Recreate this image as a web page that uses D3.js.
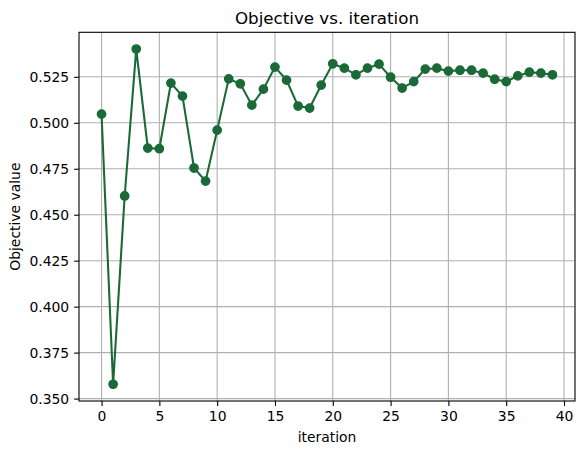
<html>
<head>
    <script src="https://d3js.org/d3.v7.min.js"></script>
    <style type="text/css">
        body { margin: 0; background: white; }
        text { font-family: "DejaVu Sans", sans-serif; fill: black; }
        .grid line { stroke: #b0b0b0; stroke-width: 1.1; }
    </style>
</head>
<body>
    <svg></svg>
    <script>
        const Width = 584, Height = 455;
        const Margin = { left: 79, top: 32.3, right: 9, bottom: 54 };

        // objective value per iteration
        var iterations = d3.range(40);
        var objective = [
            0.5047, 0.3578, 0.4602, 0.5401, 0.4862, 0.4859, 0.5216, 0.5145, 0.4754, 0.4683,
            0.4960, 0.5239, 0.5212, 0.5096, 0.5183, 0.5303, 0.5232, 0.5091, 0.5080, 0.5205,
            0.5321, 0.5297, 0.5261, 0.5297, 0.5319, 0.5248, 0.5189, 0.5224, 0.5292, 0.5297,
            0.5281, 0.5286, 0.5286, 0.5270, 0.5237, 0.5224, 0.5255, 0.5275, 0.5270, 0.5261
        ];
        var xTicks = [0, 5, 10, 15, 20, 25, 30, 35, 40];
        var yTicks = [0.350, 0.375, 0.400, 0.425, 0.450, 0.475, 0.500, 0.525];

        const Green = "#1a6936";

        var Points = iterations.map((i) => ({ x: i, y: objective[i] }));

        var svg = d3.select("svg").attr("width", Width).attr("height", Height);

        var w = Width - Margin.left - Margin.right,
            h = Height - Margin.top - Margin.bottom;

        // matplotlib style 5% margins
        var xExt = d3.extent(iterations), xPad = (xExt[1] - xExt[0]) * 0.05;
        var yExt = d3.extent(objective), yPad = (yExt[1] - yExt[0]) * 0.05;

        var x = d3.scaleLinear().domain([xExt[0] - xPad, xExt[1] + xPad]).range([0, w]);
        var y = d3.scaleLinear().domain([yExt[0] - yPad, yExt[1] + yPad]).range([h, 0]);

        var g = svg.append("g")
            .attr("transform", "translate(" + Margin.left + "," + Margin.top + ")");

        // grid
        g.append("g").classed("grid", true)
            .selectAll("line.vx").data(xTicks).enter()
            .append("line")
                .attr("x1", (d) => x(d)).attr("x2", (d) => x(d))
                .attr("y1", 0).attr("y2", h);
        g.append("g").classed("grid", true)
            .selectAll("line.hy").data(yTicks).enter()
            .append("line")
                .attr("y1", (d) => y(d)).attr("y2", (d) => y(d))
                .attr("x1", 0).attr("x2", w);

        // axes
        var xAxis = g.append("g")
            .attr("transform", "translate(0," + h + ")")
            .call(d3.axisBottom(x).tickValues(xTicks).tickSize(4.9).tickPadding(4.9).tickFormat(d3.format("d")));
        var yAxis = g.append("g")
            .call(d3.axisLeft(y).tickValues(yTicks).tickSize(4.9).tickPadding(4.9).tickFormat(d3.format(".3f")));

        [xAxis, yAxis].forEach(function(a)
        {
            a.selectAll("text").style("font-size", "13.9px").attr("fill", "black");
            a.selectAll(".tick line").attr("stroke", "black").attr("stroke-width", 1.1);
            a.select(".domain").remove();
        });

        // frame
        g.append("rect")
            .attr("x", 0).attr("y", 0).attr("width", w).attr("height", h)
            .attr("fill", "none").attr("stroke", "black").attr("stroke-width", 1.1);

        // line and markers
        var line = d3.line().x((d) => x(d.x)).y((d) => y(d.y));
        g.append("path")
            .datum(Points)
            .attr("d", line)
            .attr("fill", "none")
            .attr("stroke", Green)
            .attr("stroke-width", 2.08);

        g.selectAll("circle.pt")
            .data(Points).enter()
            .append("circle").classed("pt", true)
                .attr("cx", (d) => x(d.x))
                .attr("cy", (d) => y(d.y))
                .attr("r", 4.17)
                .attr("fill", Green)
                .attr("stroke", Green)
                .attr("stroke-width", 1.39);

        // title and labels
        svg.append("text")
            .attr("x", Margin.left + w / 2).attr("y", Margin.top - 8.3)
            .attr("text-anchor", "middle")
            .style("font-size", "16.7px")
            .text("Objective vs. iteration");

        svg.append("text")
            .attr("x", Margin.left + w / 2).attr("y", 442)
            .attr("text-anchor", "middle")
            .style("font-size", "13.9px")
            .text("iteration");

        svg.append("text")
            .attr("transform", "translate(20," + (Margin.top + h / 2) + ") rotate(-90)")
            .attr("text-anchor", "middle")
            .style("font-size", "13.9px")
            .text("Objective value");
    </script>
</body>
</html>
